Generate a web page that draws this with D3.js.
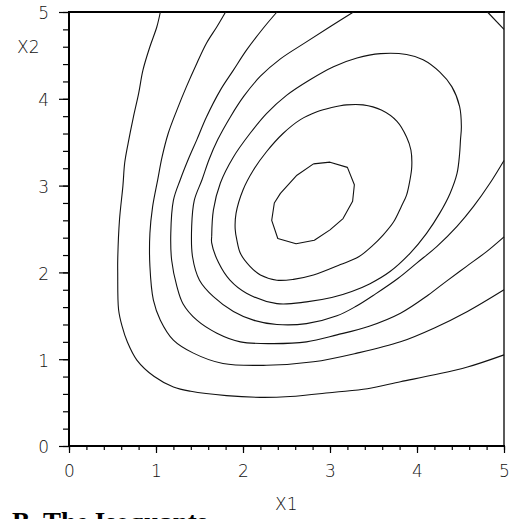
<!DOCTYPE html>
<html>
<head>
<meta charset="utf-8">
<script src="https://cdn.jsdelivr.net/npm/d3@7"></script>
<style>
  html, body { margin: 0; padding: 0; background: #fff; overflow: hidden; }
  .lbl, .tick text { font-family: "DejaVu Sans", "Liberation Sans", sans-serif; font-weight: 200; }
</style>
</head>
<body>
<div id="vis"></div>
<script>
// isoquant lines as [X1, X2] pairs (outermost first)
var iso1 = [[1.05,5.00],[1.01,4.83],[0.93,4.60],[0.85,4.33],[0.80,4.06],[0.74,3.79],[0.68,3.49],[0.64,3.26],[0.62,3.00],[0.58,2.60],[0.56,2.14],[0.56,2.00],[0.57,1.57],[0.61,1.38],[0.67,1.20],[0.78,0.99],[0.98,0.80],[1.20,0.68],[1.40,0.63],[1.81,0.58],[2.20,0.56],[2.54,0.57],[3.05,0.62],[3.43,0.66],[3.81,0.74],[4.20,0.82],[4.58,0.91],[5.00,1.05]];
var iso1corner = [[4.81,5.00],[5.00,4.80]];
var iso2 = [[1.80,5.00],[1.70,4.83],[1.58,4.64],[1.47,4.41],[1.35,4.14],[1.24,3.87],[1.14,3.60],[1.07,3.33],[1.02,3.07],[0.96,2.75],[0.93,2.45],[0.93,2.07],[0.97,1.68],[1.05,1.45],[1.20,1.22],[1.43,1.07],[1.77,0.95],[2.27,0.93],[2.81,0.97],[3.31,1.07],[3.81,1.20],[4.20,1.36],[4.58,1.55],[5.00,1.80]];
var iso3 = [[2.39,5.00],[2.23,4.81],[2.04,4.56],[1.89,4.33],[1.74,4.10],[1.58,3.79],[1.47,3.53],[1.37,3.30],[1.28,3.07],[1.20,2.83],[1.17,2.45],[1.18,2.14],[1.24,1.84],[1.31,1.64],[1.47,1.45],[1.70,1.30],[1.97,1.20],[2.35,1.18],[2.73,1.20],[3.08,1.28],[3.45,1.38],[3.81,1.53],[4.13,1.74],[4.34,1.90],[4.57,2.07],[4.80,2.24],[5.00,2.41]];
var iso4 = [[3.27,5.00],[3.00,4.83],[2.72,4.65],[2.43,4.46],[2.20,4.26],[2.01,4.03],[1.86,3.80],[1.71,3.53],[1.61,3.30],[1.53,3.07],[1.44,2.83],[1.41,2.53],[1.42,2.18],[1.50,1.91],[1.66,1.72],[1.89,1.55],[2.12,1.45],[2.39,1.40],[2.73,1.41],[3.08,1.50],[3.30,1.61],[3.52,1.75],[3.78,1.93],[4.00,2.11],[4.23,2.30],[4.46,2.53],[4.65,2.76],[4.84,3.03],[5.00,3.29]];
var iso5 = [[1.64,2.41],[1.66,2.72],[1.74,3.03],[1.89,3.33],[2.08,3.60],[2.27,3.83],[2.50,4.04],[2.77,4.22],[3.04,4.37],[3.31,4.47],[3.58,4.52],[3.88,4.51],[4.07,4.45],[4.26,4.31],[4.40,4.14],[4.49,3.91],[4.51,3.68],[4.50,3.53],[4.49,3.37],[4.46,3.14],[4.38,2.91],[4.26,2.68],[4.11,2.45],[3.92,2.22],[3.69,2.01],[3.46,1.87],[3.25,1.78],[3.02,1.71],[2.73,1.66],[2.39,1.64],[2.04,1.76],[1.85,1.91],[1.72,2.11],[1.64,2.34],[1.64,2.41]];
var iso6 = [[3.02,3.90],[3.19,3.93],[3.38,3.93],[3.59,3.87],[3.77,3.74],[3.88,3.56],[3.93,3.41],[3.94,3.22],[3.92,3.07],[3.88,2.89],[3.82,2.76],[3.73,2.58],[3.61,2.43],[3.48,2.30],[3.33,2.18],[3.12,2.09],[2.81,1.97],[2.58,1.92],[2.39,1.91],[2.20,1.97],[2.08,2.07],[1.97,2.22],[1.93,2.37],[1.91,2.50],[1.92,2.68],[2.00,2.95],[2.12,3.18],[2.27,3.39],[2.46,3.60],[2.66,3.76],[2.85,3.85],[3.02,3.90]];
var iso7 = [[2.81,3.25],[3.00,3.27],[3.20,3.21],[3.28,3.01],[3.26,2.82],[3.15,2.62],[3.00,2.49],[2.82,2.37],[2.61,2.33],[2.40,2.39],[2.33,2.60],[2.36,2.80],[2.43,2.91],[2.62,3.12],[2.81,3.25]];

var majorTicks = [0, 1, 2, 3, 4, 5];
var minorTicks = d3.range(0, 5.001, 0.2);
var xTitle = "X1", yTitle = "X2";
var caption = "B. The Isoquants";

var W = 519, H = 519;
var x = d3.scaleLinear().domain([0, 5]).range([69, 504]);
var y = d3.scaleLinear().domain([0, 5]).range([446, 12]);

var svg = d3.select("#vis").append("svg")
  .attr("width", W)
  .attr("height", H);

// minor ticks first, majors over them
svg.append("g")
  .attr("transform", "translate(69,0)")
  .call(d3.axisLeft(y).tickValues(minorTicks).tickSize(6).tickSizeOuter(0).tickFormat(""))
  .call(g => g.select(".domain").remove());
svg.append("g")
  .attr("transform", "translate(0,446)")
  .call(d3.axisBottom(x).tickValues(minorTicks).tickSize(4).tickSizeOuter(0).tickFormat(""))
  .call(g => g.select(".domain").remove());

var yAxis = svg.append("g")
  .attr("transform", "translate(69,0)")
  .call(d3.axisLeft(y).tickValues(majorTicks).tickSize(10).tickPadding(10).tickSizeOuter(0).tickFormat(d3.format("d")));
yAxis.select(".domain").remove();
yAxis.selectAll("text").attr("font-size", 17).attr("dy", "0.40em").attr("fill", "#111");

var xAxis = svg.append("g")
  .attr("transform", "translate(0,446)")
  .call(d3.axisBottom(x).tickValues(majorTicks).tickSize(7).tickPadding(12).tickSizeOuter(0).tickFormat(d3.format("d")));
xAxis.select(".domain").remove();
xAxis.selectAll("text").attr("font-size", 17).attr("fill", "#111");

svg.selectAll(".tick line").attr("stroke", "#000").attr("stroke-width", 1.2);

// frame
svg.append("line").attr("x1", 69).attr("x2", 69).attr("y1", 11).attr("y2", 447)
  .attr("stroke", "#000").attr("stroke-width", 2);
svg.append("line").attr("x1", 68).attr("x2", 505).attr("y1", 446).attr("y2", 446)
  .attr("stroke", "#000").attr("stroke-width", 2);
svg.append("line").attr("x1", 68).attr("x2", 505).attr("y1", 12).attr("y2", 12)
  .attr("stroke", "#000").attr("stroke-width", 2);
svg.append("line").attr("x1", 504).attr("x2", 504).attr("y1", 12).attr("y2", 446)
  .attr("stroke", "#000").attr("stroke-width", 1.3);

// isoquants: outer ones smooth, the innermost loop keeps its straight pieces
var smooth = d3.line().x(d => x(d[0])).y(d => y(d[1])).curve(d3.curveCatmullRom.alpha(0.5));
var straight = d3.line().x(d => x(d[0])).y(d => y(d[1]));
var isoquants = [
  {pts: iso1, gen: smooth}, {pts: iso1corner, gen: straight},
  {pts: iso2, gen: smooth}, {pts: iso3, gen: smooth}, {pts: iso4, gen: smooth},
  {pts: iso5, gen: smooth}, {pts: iso6, gen: smooth}, {pts: iso7, gen: straight}
];
svg.append("g").selectAll("path")
  .data(isoquants)
  .enter().append("path")
  .attr("d", d => d.gen(d.pts))
  .attr("fill", "none")
  .attr("stroke", "#111")
  .attr("stroke-width", 1.1)
  .attr("stroke-linejoin", "round");

// axis titles
svg.append("text").attr("class", "lbl")
  .attr("x", 17).attr("y", 53)
  .attr("font-size", 17).attr("fill", "#111")
  .text(yTitle);
svg.append("text").attr("class", "lbl")
  .attr("x", 275).attr("y", 510)
  .attr("font-size", 17).attr("fill", "#111")
  .text(xTitle);

svg.append("text")
  .attr("x", 12).attr("y", 531)
  .style("font-family", "'Liberation Serif', 'Times New Roman', serif")
  .style("font-weight", "bold")
  .attr("font-size", 27).attr("fill", "#000")
  .text(caption);
</script>
</body>
</html>
